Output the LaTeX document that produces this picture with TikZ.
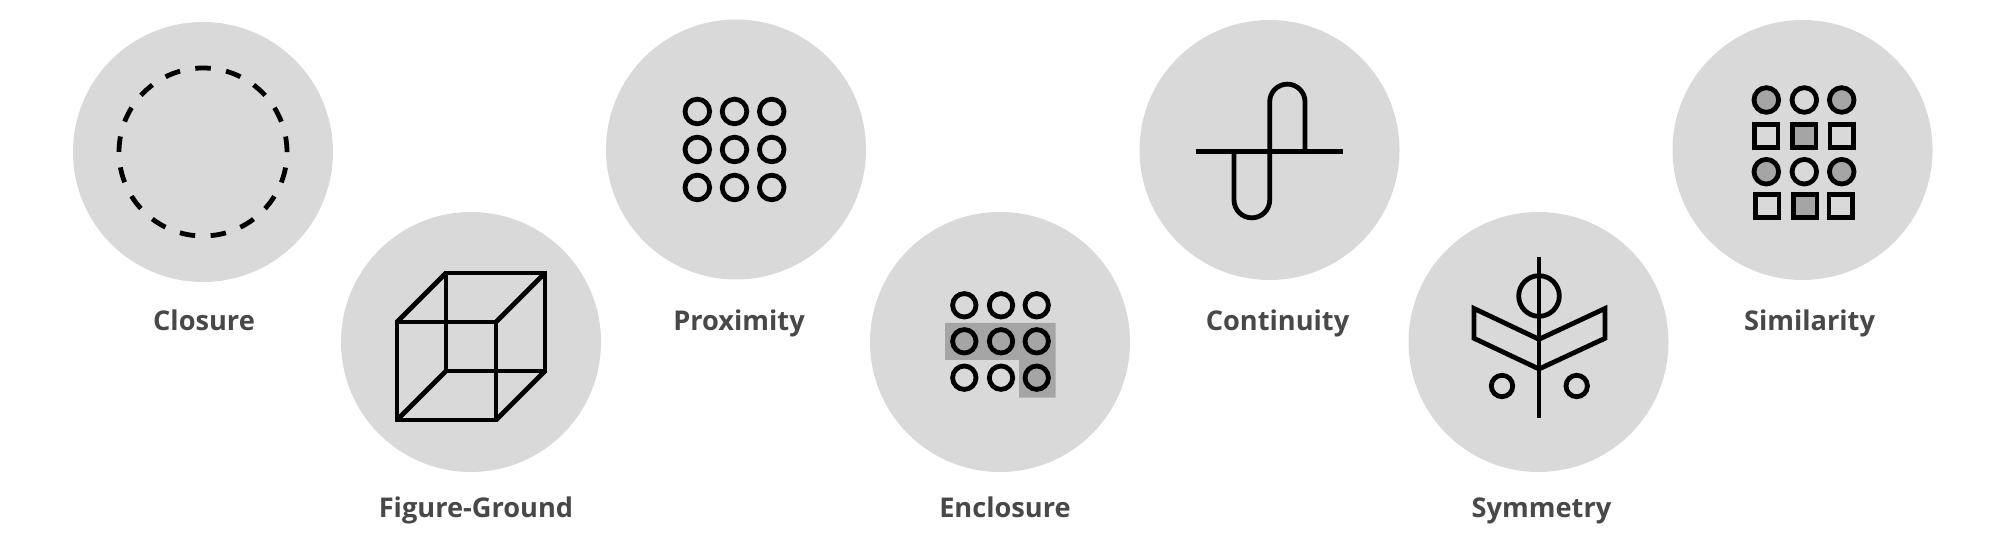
\documentclass[tikz,border=0pt]{standalone}
\usepackage{fontspec}
\usepackage{xcolor}
\usepackage{tikz}
\usetikzlibrary{positioning}
\newfontfamily\labelfont{Open Sans}
\definecolor{disc}{HTML}{D9D9D9}
\definecolor{tint}{HTML}{A5A5A5}
\definecolor{ink}{HTML}{000000}
\definecolor{caption}{HTML}{484848}

\begin{document}
\begin{tikzpicture}[
  x=0.5pt, y=0.5pt,
  node distance=6pt,
  discbox/.style={circle, fill=disc, minimum size=130pt, inner sep=0pt},
  caption/.style={font=\labelfont\bfseries\fontsize{13.6}{16}\selectfont, text=caption, inner sep=0pt,
                  text height=10.5pt, text depth=3pt},
  glyph/.style={draw=ink, line width=2.4pt},
  filled/.style={glyph, fill=tint}
]
\useasboundingbox (0,0) rectangle (2000,535);

\node[discbox] (closure) at (203,383) {};
\node[discbox] (ground) at (471,193) {};
\node[discbox] (proximity) at (736,385.5) {};
\node[discbox] (enclosure) at (1000,193) {};
\node[discbox] (continuity) at (1269.5,385) {};
\node[discbox] (symmetry) at (1538.5,193) {};
\node[discbox] (similarity) at (1802.5,385) {};

\node[caption, below=13.5pt of closure, xshift=0.5pt] (closurelabel) {Closure};
\node[caption, below=11.8pt of ground, xshift=2.5pt] (groundlabel) {Figure-Ground};
\node[caption, below=14.5pt of proximity, xshift=1.5pt] (proximitylabel) {Proximity};
\node[caption, below=11.8pt of enclosure, xshift=2.5pt] (enclosurelabel) {Enclosure};
\node[caption, below=14.5pt of continuity, xshift=4pt] (continuitylabel) {Continuity};
\node[caption, below=11.8pt of symmetry, xshift=1.5pt] (symmetrylabel) {Symmetry};
\node[caption, below=14.5pt of similarity, xshift=3.5pt] (similaritylabel) {Similarity};

% closure
\draw[glyph, dash pattern=on 7.76pt off 7.76pt] (closure.center) circle[radius=84];

% figure-ground
\begin{scope}[shift={(ground.center)}]
  \draw[glyph] (-74,-78) rectangle (25,20);
  \draw[glyph] (-25,-29) rectangle (74,69);
  \draw[glyph] (-74,20) -- (-25,69);
  \draw[glyph] (25,20) -- (74,69);
  \draw[glyph] (-74,-78) -- (-25,-29);
  \draw[glyph] (25,-78) -- (74,-29);
\end{scope}

% proximity
\begin{scope}[shift={(proximity.center)}]
  \draw[glyph] (-38.7,38) circle[radius=12.3] (-1.5,38) circle[radius=12.3] (35.7,38) circle[radius=12.3]
    (-38.7,0) circle[radius=12.3] (-1.5,0) circle[radius=12.3] (35.7,0) circle[radius=12.3]
    (-38.7,-38) circle[radius=12.3] (-1.5,-38) circle[radius=12.3] (35.7,-38) circle[radius=12.3];
\end{scope}

% enclosure
\begin{scope}[shift={(enclosure.center)}]
  \fill[tint] (-55,19) -- (55.7,19) -- (55.7,-55.7) -- (19,-55.7) -- (19,-18) -- (-55,-18) -- cycle;
  \draw[glyph] (-35.7,36.7) circle[radius=11.7] (1,36.7) circle[radius=11.7] (36.7,36.7) circle[radius=11.7]
    (-35.7,0.7) circle[radius=11.7] (1,0.7) circle[radius=11.7] (36.7,0.7) circle[radius=11.7]
    (-35.7,-35.7) circle[radius=11.7] (1,-35.7) circle[radius=11.7] (36.7,-35.7) circle[radius=11.7];
\end{scope}

% continuity
\begin{scope}[shift={(continuity.center)}]
  \draw[glyph] (-73.5,-1.2) -- (73.5,-1.2);
  \draw[glyph] (35.5,-1.2) -- (35.5,48.2) arc[start angle=0, end angle=180, radius=17.65]
    -- (0.2,-50) arc[start angle=360, end angle=180, radius=17.85] -- (-35.5,-1.2);
\end{scope}

% symmetry
\begin{scope}[shift={(symmetry.center)}]
  \draw[glyph] (0.5,84.7) -- (0.5,-76.3);
  \draw[glyph] (0.5,46) circle[radius=20.3];
  \draw[glyph] (0.5,2.7) -- (-64.5,33.5) -- (-64.5,3.7) -- (0.5,-27) -- (66.5,3.7) -- (66.5,33.5) -- cycle;
  \draw[glyph] (-36.5,-44) circle[radius=10.7] (38.2,-44) circle[radius=10.7];
\end{scope}

% similarity
\begin{scope}[shift={(similarity.center)}]
  \draw[filled] (-36.2,50) circle[radius=12.3] (39.2,50) circle[radius=12.3]
    (-36.2,-21.7) circle[radius=12.3] (39.2,-21.7) circle[radius=12.3];
  \draw[glyph] (1.8,50) circle[radius=12.3] (1.8,-21.7) circle[radius=12.3];
  \draw[glyph] (-47.8,2.3) rectangle +(23.3,23.3) (27.5,2.3) rectangle +(23.3,23.3)
    (-46.8,-67.7) rectangle +(23.3,23.3) (26.5,-67.7) rectangle +(23.3,23.3);
  \draw[filled] (-9.8,2.3) rectangle +(23.3,23.3) (-8.8,-67.7) rectangle +(23.3,23.3);
\end{scope}
\end{tikzpicture}
\end{document}
